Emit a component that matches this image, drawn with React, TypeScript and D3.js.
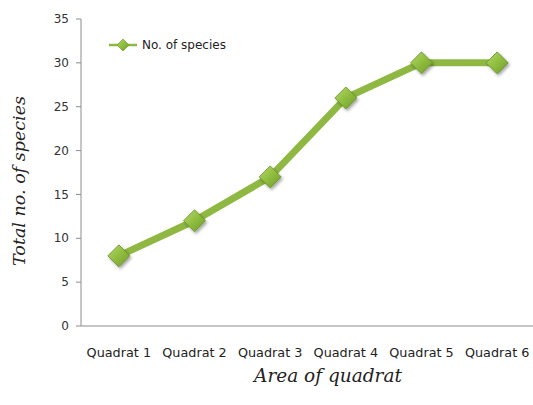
import React from "react";
import * as d3 from "d3";

const categories = ["Quadrat 1", "Quadrat 2", "Quadrat 3", "Quadrat 4", "Quadrat 5", "Quadrat 6"];
const species = [8, 12, 17, 26, 30, 30];
const yTicks = [0, 5, 10, 15, 20, 25, 30, 35];
const seriesName = "No. of species";
const xTitle = "Area of quadrat";
const yTitle = "Total no. of species";

const W = 533;
const H = 405;
const left = 81;
const right = 535;
const top = 19;
const bottom = 326;

export default function App() {
  const x = d3.scaleBand<string>().domain(categories).range([left, right]);
  const y = d3.scaleLinear().domain([0, 35]).range([bottom, top]);
  const cx = (c: string) => (x(c) as number) + x.bandwidth() / 2;
  const line = d3
    .line<number>()
    .x((_, i) => cx(categories[i]))
    .y((d) => y(d));
  const diamond = (s: number) => `M0,${-s}L${s},0L0,${s}L${-s},0Z`;
  const sansFont = "'DejaVu Sans', Verdana, sans-serif";
  const serifItalic = "'DejaVu Serif', serif";

  return (
    <svg
      width={W}
      height={H}
      style={{ position: "absolute", left: 0, top: 0, background: "#fff" }}
    >
      <defs>
        <linearGradient id="mk" x1="0" y1="0" x2="1" y2="1">
          <stop offset="0" stopColor="#b5d86a" />
          <stop offset="0.5" stopColor="#8fbd3e" />
          <stop offset="1" stopColor="#6f9a2a" />
        </linearGradient>
        <filter id="sh" x="-50%" y="-50%" width="200%" height="200%">
          <feDropShadow dx="1.5" dy="2" stdDeviation="1.5" floodColor="#000" floodOpacity="0.35" />
        </filter>
      </defs>
      {/* axes */}
      <line x1={left} x2={left} y1={y(35)} y2={bottom} stroke="#8c8c8c" strokeWidth={1} />
      <line x1={left} x2={W} y1={bottom} y2={bottom} stroke="#8c8c8c" strokeWidth={1} />
      {yTicks.map((t) => (
        <g key={t}>
          <line x1={left - 5} x2={left} y1={y(t)} y2={y(t)} stroke="#8c8c8c" />
          <text
            x={left - 12}
            y={y(t)}
            dy="0.35em"
            textAnchor="end"
            fontFamily={sansFont}
            fontSize={12}
            fill="#333"
          >
            {t}
          </text>
        </g>
      ))}
      {categories.map((c) => (
        <text
          key={c}
          x={cx(c)}
          y={357}
          textAnchor="middle"
          fontFamily={sansFont}
          fontSize={12.8}
          fill="#222"
        >
          {c}
        </text>
      ))}
      {/* series */}
      <path d={line(species) as string} fill="none" stroke="#8fb842" strokeWidth={7} strokeLinejoin="round" />
      {species.map((v, i) => (
        <path
          key={i}
          transform={`translate(${cx(categories[i])},${y(v)})`}
          d={diamond(11)}
          fill="url(#mk)"
          stroke="#6a8f2a"
          strokeWidth={0.8}
          filter="url(#sh)"
        />
      ))}
      {/* legend */}
      <line x1={109} x2={137} y1={45} y2={45} stroke="#8fb842" strokeWidth={2.5} />
      <path transform="translate(123,45)" d={diamond(6)} fill="url(#mk)" stroke="#6a8f2a" strokeWidth={0.6} />
      <text x={142} y={45} dy="0.35em" fontFamily={sansFont} fontSize={12} fill="#222">
        {seriesName}
      </text>
      {/* titles */}
      <text
        x={328}
        y={382}
        textAnchor="middle"
        fontFamily={serifItalic}
        fontStyle="italic"
        fontSize={18.5}
        fill="#222"
      >
        {xTitle}
      </text>
      <text
        transform="translate(25,181) rotate(-90)"
        textAnchor="middle"
        fontFamily={serifItalic}
        fontStyle="italic"
        fontSize={17.5}
        fill="#222"
      >
        {yTitle}
      </text>
    </svg>
  );
}
